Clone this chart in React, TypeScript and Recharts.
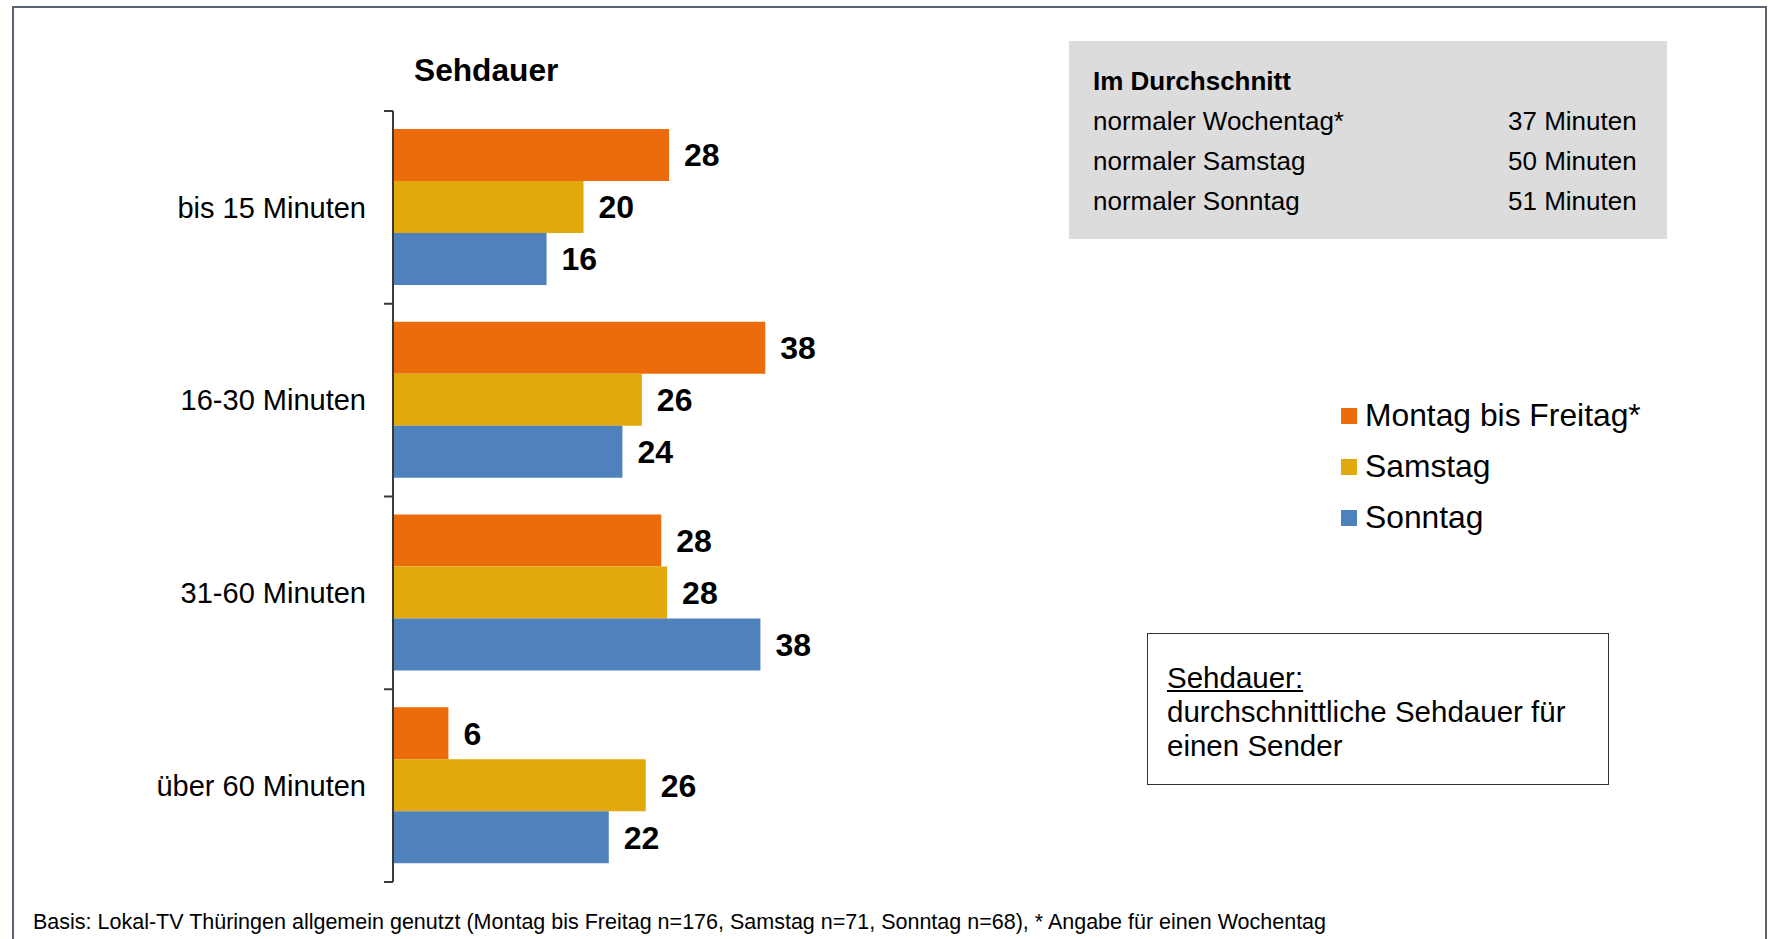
import React from 'react';
import { BarChart, Bar, XAxis, YAxis, LabelList, Legend } from 'recharts';

const categories = ['bis 15 Minuten', '16-30 Minuten', '31-60 Minuten', 'über 60 Minuten'];
const seriesNames = ['Montag bis Freitag*', 'Samstag', 'Sonntag'];
const montagBisFreitag = [28.4, 38.3, 27.6, 5.7];
const samstag = [19.6, 25.6, 28.2, 26.0];
const sonntag = [15.8, 23.6, 37.8, 22.2];
const seriesColors = ['#EC6C0B', '#E1A90B', '#4F81BD'];
const averageLabels = ['normaler Wochentag*', 'normaler Samstag', 'normaler Sonntag'];
const averageValues = ['37 Minuten', '50 Minuten', '51 Minuten'];
const xDomain: [number, number] = [0, 40];

const FONT = '"Liberation Sans", Arial, Helvetica, sans-serif';
const AXIS_COLOR = '#3a3a3a';
const TICK_MARGIN = 27;
const TICK_LEN = 9;

const data = categories.map((name, i) => ({
  name,
  mo: montagBisFreitag[i],
  sa: samstag[i],
  so: sonntag[i],
}));
const seriesKeys = ['mo', 'sa', 'so'];

// Category label plus Excel-style tick marks on the band boundaries
const CategoryTick = (props: any) => {
  const { x, y, payload, index, visibleTicksCount } = props;
  const half = Number(payload && payload.offset) || 0;
  const ax = x + TICK_MARGIN;
  const isLast = index === (visibleTicksCount ?? categories.length) - 1;
  return (
    <g>
      <line x1={ax - TICK_LEN} x2={ax} y1={y - half} y2={y - half} stroke={AXIS_COLOR} strokeWidth={2} />
      {isLast && (
        <line x1={ax - TICK_LEN} x2={ax} y1={y + half} y2={y + half} stroke={AXIS_COLOR} strokeWidth={2} />
      )}
      <text x={x} y={y} dy="0.355em" textAnchor="end" fontSize={29} fill="#000" fontFamily={FONT}>
        {payload.value}
      </text>
    </g>
  );
};

const renderLegend = (props: any) => (
  <div style={{ display: 'flex', flexDirection: 'column', fontFamily: FONT }}>
    {(props.payload || []).map((entry: any) => (
      <div key={entry.value} style={{ display: 'flex', alignItems: 'center', height: 51 }}>
        <span style={{ display: 'inline-block', width: 16, height: 16, background: entry.color, marginRight: 8 }} />
        <span style={{ fontSize: 31.8, color: '#000', lineHeight: '51px', whiteSpace: 'nowrap' }}>{entry.value}</span>
      </div>
    ))}
  </div>
);

export default function App() {
  return (
    <div style={{ position: 'fixed', left: 0, top: 0, width: 1770, height: 939, overflow: 'hidden', background: '#fff', fontFamily: FONT, color: '#000' }}>
      {/* outer frame */}
      <div style={{ position: 'absolute', left: 12, top: 6, width: 1751, height: 960, border: '2px solid #5b6270' }} />

      <div style={{ position: 'absolute', left: 0, top: 0 }}>
        <BarChart
          width={1770}
          height={939}
          data={data}
          layout="vertical"
          barGap={0}
          margin={{ top: 111, bottom: 57, left: 153, right: 988.2 }}
        >
          <XAxis type="number" domain={xDomain} hide />
          <YAxis
            type="category"
            dataKey="name"
            width={240}
            interval={0}
            axisLine={{ stroke: AXIS_COLOR, strokeWidth: 2 }}
            tickLine={false}
            tickSize={0}
            tickMargin={TICK_MARGIN}
            tick={<CategoryTick />}
          />
          {seriesKeys.map((k, i) => (
            <Bar
              key={k}
              dataKey={k}
              name={seriesNames[i]}
              fill={seriesColors[i]}
              barSize={52}
              isAnimationActive={false}
            >
              <LabelList
                dataKey={k}
                position="right"
                offset={15}
                formatter={(v: any) => Math.round(Number(v))}
                fill="#000"
                fontSize={32}
                fontWeight="bold"
                fontFamily={FONT}
              />
            </Bar>
          ))}
          <Legend
            layout="vertical"
            align="center"
            verticalAlign="middle"
            content={renderLegend}
            wrapperStyle={{ left: 1341, top: 390, width: 'auto', height: 'auto' }}
          />
        </BarChart>
      </div>

      {/* title */}
      <div style={{ position: 'absolute', left: 414, top: 51.5, fontSize: 31.7, lineHeight: '36px', fontWeight: 700, whiteSpace: 'nowrap' }}>
        Sehdauer
      </div>

      {/* average box */}
      <div style={{ position: 'absolute', left: 1069, top: 41, width: 598, height: 198, background: '#dcdcdc' }} />
      <div style={{ position: 'absolute', left: 1093, top: 61, fontSize: 26, lineHeight: '40px', whiteSpace: 'nowrap' }}>
        <div style={{ fontWeight: 700 }}>Im Durchschnitt</div>
        {averageLabels.map((l) => (
          <div key={l}>{l}</div>
        ))}
      </div>
      <div style={{ position: 'absolute', left: 1508, top: 101, fontSize: 26, lineHeight: '40px', whiteSpace: 'nowrap' }}>
        {averageValues.map((v, i) => (
          <div key={i}>{v}</div>
        ))}
      </div>

      {/* definition box */}
      <div style={{ position: 'absolute', left: 1147, top: 633, width: 460, height: 150, border: '1px solid #333' }} />
      <div style={{ position: 'absolute', left: 1167, top: 661, fontSize: 29.5, lineHeight: '34px', whiteSpace: 'nowrap' }}>
        <div style={{ textDecoration: 'underline' }}>Sehdauer:</div>
        <div>durchschnittliche Sehdauer für</div>
        <div>einen Sender</div>
      </div>

      {/* footer */}
      <div style={{ position: 'absolute', left: 33, top: 909.7, fontSize: 21.5, lineHeight: '24px', whiteSpace: 'nowrap' }}>
        Basis: Lokal-TV Thüringen allgemein genutzt (Montag bis Freitag n=176, Samstag n=71, Sonntag n=68), * Angabe für einen Wochentag
      </div>
    </div>
  );
}
